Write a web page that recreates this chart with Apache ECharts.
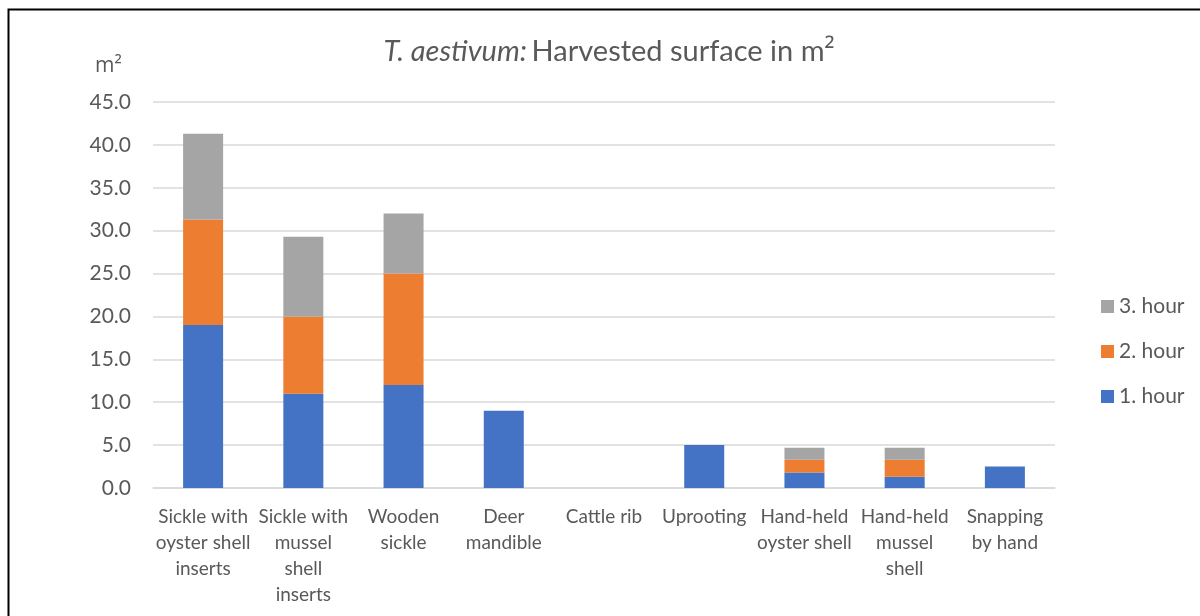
<!DOCTYPE html>
<html><head><meta charset="utf-8">
<script src="https://cdn.jsdelivr.net/npm/echarts@6/dist/echarts.min.js"></script>
<style>html,body{margin:0;padding:0;background:#fff}#c{width:1200px;height:616px}</style>
</head><body><div id="c"></div>
<script>
const categories = ["Sickle with\noyster shell\ninserts","Sickle with\nmussel\nshell\ninserts","Wooden\nsickle","Deer\nmandible","Cattle rib","Uprooting","Hand-held\noyster shell","Hand-held\nmussel\nshell","Snapping\nby hand"];
const hour1 = [19.0, 11.0, 12.0, 9.0, 0, 5.0, 1.8, 1.3, 2.5];
const hour2 = [12.3, 9.0, 13.0, 0, 0, 0, 1.5, 2.0, 0];
const hour3 = [10.0, 9.3, 7.0, 0, 0, 0, 1.4, 1.4, 0];
const yTicks = {min: 0, max: 45, interval: 5};
const FONT = "Lato, 'Open Sans', sans-serif";
const chart = echarts.init(document.getElementById('c'));
const mk = (name, data, color) => ({
  name, type: 'bar', stack: 'a', data, barWidth: 40,
  itemStyle: {color, borderWidth: 0}
});
chart.setOption({
  animation: false,
  textStyle: {fontFamily: FONT},
  title: {
    text: '{i|T. aestivum:} {n|Harvested surface in m}{s|²}',
    left: 604, top: 32, textAlign: 'center',
    textStyle: {fontWeight: 'normal', rich: {
      i: {fontStyle: 'italic', fontWeight: 'normal', fontSize: 29, color: '#595959', fontFamily: FONT},
      n: {fontWeight: 'normal', fontSize: 29, color: '#595959', fontFamily: FONT},
      s: {fontWeight: 'normal', fontSize: 29, color: '#595959', fontFamily: "'Open Sans', sans-serif"}
    }}
  },
  legend: {
    orient: 'vertical', left: 1096, top: 291, itemGap: 24,
    itemWidth: 13, itemHeight: 13, icon: 'rect',
    data: ['3. hour', '2. hour', '1. hour'],
    textStyle: {fontSize: 21, color: '#595959', fontFamily: FONT}
  },
  grid: {left: 153, right: 145, top: 102, bottom: 128},
  xAxis: {
    type: 'category', data: categories,
    axisLine: {lineStyle: {color: '#D9D9D9', width: 1.5}},
    axisTick: {show: false},
    axisLabel: {interval: 0, margin: 16, fontSize: 19, lineHeight: 26, color: '#595959', fontFamily: FONT}
  },
  yAxis: {
    type: 'value', min: yTicks.min, max: yTicks.max, interval: yTicks.interval,
    axisLabel: {formatter: v => v.toFixed(1), fontSize: 21, color: '#595959', margin: 22, fontFamily: FONT},
    splitLine: {lineStyle: {color: '#D9D9D9', width: 1.5}},
    axisLine: {show: false}, axisTick: {show: false}
  },
  graphic: [{
    type: 'rect', shape: {x: 8.5, y: 9.5, width: 1200, height: 700},
    style: {fill: 'none', stroke: '#000', lineWidth: 2}, silent: true
  }, {
    type: 'text', left: 95, top: 56,
    style: {text: 'm²', fontSize: 21, fill: '#595959', fontFamily: "'Open Sans', sans-serif"}, silent: true
  }],
  series: [mk('1. hour', hour1, '#4472C4'), mk('2. hour', hour2, '#ED7D31'), mk('3. hour', hour3, '#A5A5A5')]
});
</script></body></html>
